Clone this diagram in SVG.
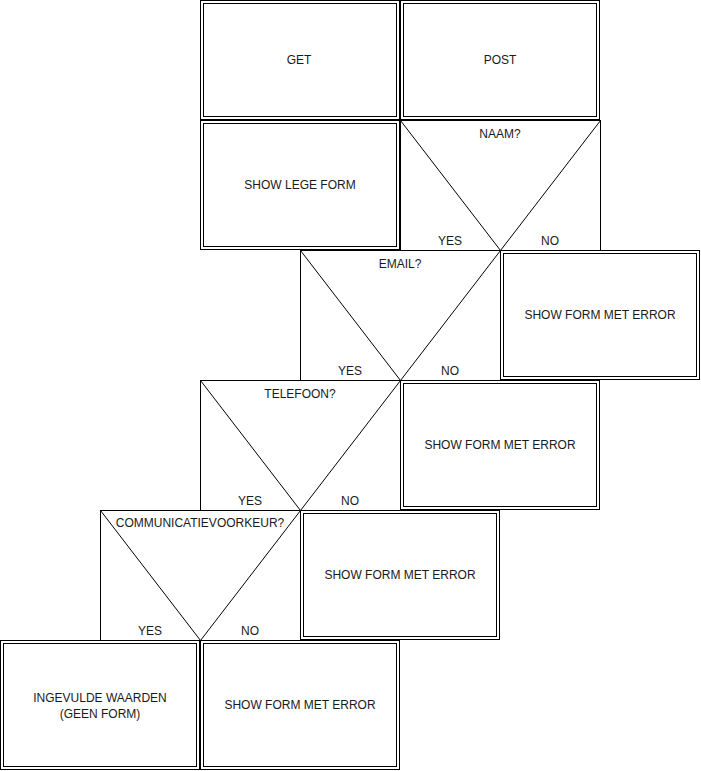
<svg xmlns="http://www.w3.org/2000/svg" width="701" height="771" viewBox="0 0 701 771">
<style>
.o{fill:#fff;stroke:#000;stroke-width:1}
.i{fill:none;stroke:#000;stroke-width:1}
.d{fill:#fff;stroke:#000;stroke-width:1}
.v{fill:none;stroke:#000;stroke-width:1}
text{font-family:"Liberation Sans",Arial,Helvetica,sans-serif;font-size:12px;fill:#1a1a1a;text-anchor:middle}
</style>
<rect width="701" height="771" fill="#fff"/>
<g id="get"><rect class="o" x="200.5" y="0.5" width="199" height="119"/><rect class="i" x="203.5" y="3.5" width="193" height="113"/><text x="299" y="64">GET</text></g>
<g id="post"><rect class="o" x="400.5" y="0.5" width="199" height="119"/><rect class="i" x="403.5" y="3.5" width="193" height="113"/><text x="500" y="64">POST</text></g>
<g id="show-lege-form"><rect class="o" x="200.5" y="120.5" width="199" height="129"/><rect class="i" x="203.5" y="123.5" width="193" height="123"/><text x="300" y="189">SHOW LEGE FORM</text></g>
<g id="naam"><rect class="d" x="400.5" y="120.5" width="200" height="130"/><path class="v" d="M400.5,120.5 L500.5,250.5 L600.5,120.5"/><text x="500" y="138">NAAM?</text><text x="450" y="245">YES</text><text x="550" y="245">NO</text></g>
<g id="email"><rect class="d" x="300.5" y="250.5" width="200" height="130"/><path class="v" d="M300.5,250.5 L400.5,380.5 L500.5,250.5"/><text x="400" y="268">EMAIL?</text><text x="350" y="375">YES</text><text x="450" y="375">NO</text></g>
<g id="error-email"><rect class="o" x="500.5" y="250.5" width="199" height="129"/><rect class="i" x="503.5" y="253.5" width="193" height="123"/><text x="600" y="319">SHOW FORM MET ERROR</text></g>
<g id="telefoon"><rect class="d" x="200.5" y="380.5" width="200" height="130"/><path class="v" d="M200.5,380.5 L300.5,510.5 L400.5,380.5"/><text x="300" y="398">TELEFOON?</text><text x="250" y="505">YES</text><text x="350" y="505">NO</text></g>
<g id="error-telefoon"><rect class="o" x="400.5" y="380.5" width="199" height="129"/><rect class="i" x="403.5" y="383.5" width="193" height="123"/><text x="500" y="449">SHOW FORM MET ERROR</text></g>
<g id="communicatievoorkeur"><rect class="d" x="100.5" y="510.5" width="200" height="130"/><path class="v" d="M100.5,510.5 L200.5,640.5 L300.5,510.5"/><text x="200" y="527">COMMUNICATIEVOORKEUR?</text><text x="150" y="635">YES</text><text x="250" y="635">NO</text></g>
<g id="error-communicatie"><rect class="o" x="300.5" y="510.5" width="199" height="129"/><rect class="i" x="303.5" y="513.5" width="193" height="123"/><text x="400" y="579">SHOW FORM MET ERROR</text></g>
<g id="ingevulde-waarden"><rect class="o" x="0.5" y="640.5" width="199" height="129"/><rect class="i" x="3.5" y="643.5" width="193" height="123"/><text x="100" y="702">INGEVULDE WAARDEN</text><text x="100" y="718">(GEEN FORM)</text></g>
<g id="error-final"><rect class="o" x="200.5" y="640.5" width="199" height="129"/><rect class="i" x="203.5" y="643.5" width="193" height="123"/><text x="300" y="709">SHOW FORM MET ERROR</text></g>
<g id="connectors"></g>
</svg>
